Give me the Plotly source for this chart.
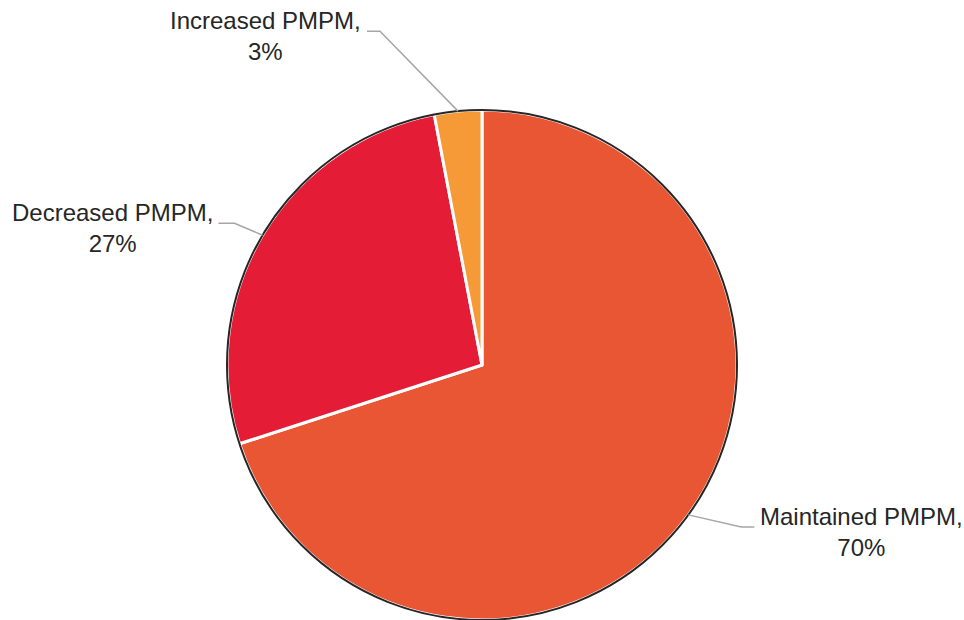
import math
import plotly.graph_objects as go

# ---- data ----
categories = ["Maintained PMPM", "Decreased PMPM", "Increased PMPM"]
values = [70, 27, 3]
colors = ["#E95634", "#E51C35", "#F59A36"]

# ---- layout constants (pixels) ----
W, H = 964, 620
CX, CY, R = 482, 365, 255
# leader-line elbow offsets from slice edge, horizontal tail length
elbow_off = [(53, 12), (-28, -12), (-78, -80)]
tail_len = [13, 16, 13]

def px(x):
    return x / W

def py(y):
    return 1 - y / H

fig = go.Figure()
fig.add_trace(go.Pie(
    labels=categories,
    values=values,
    sort=False,
    direction="clockwise",
    rotation=0,
    marker=dict(colors=colors, line=dict(color="white", width=3)),
    textinfo="none",
    hoverinfo="label+percent",
    showlegend=False,
    domain=dict(x=[0, 1], y=[0, (2 * R) / H]),
))

# outer dark outline
fig.add_shape(type="circle", xref="paper", yref="paper",
              x0=px(CX - R), x1=px(CX + R), y0=py(CY + R), y1=py(CY - R),
              line=dict(color="#262626", width=2), layer="above")

total = sum(values)
cum = 0
for i, (lab, v) in enumerate(zip(categories, values)):
    mid = (cum + v / 2) / total * 2 * math.pi
    cum += v
    ex = CX + R * math.sin(mid)
    ey = CY - R * math.cos(mid)
    bx = ex + elbow_off[i][0]
    by = ey + elbow_off[i][1]
    side = 1 if bx > ex else -1
    tx = bx + side * tail_len[i]
    fig.add_shape(type="path", xref="paper", yref="paper",
                  path=f"M {px(ex)} {py(ey)} L {px(bx)} {py(by)} L {px(tx)} {py(by)}",
                  line=dict(color="#A6A6A6", width=1.5))
    pct = round(v / total * 100)
    fig.add_annotation(
        xref="paper", yref="paper",
        x=px(tx + side * 4), y=py(by + 5),
        xanchor="left" if side > 0 else "right", yanchor="middle",
        text=f"{lab},<br>{pct}%", showarrow=False, align="center",
        font=dict(family="Liberation Sans, Arial, sans-serif", size=24, color="#262626"),
    )

fig.update_layout(
    width=W, height=H,
    margin=dict(l=0, r=0, t=0, b=0),
    paper_bgcolor="white", plot_bgcolor="white",
)

fig.write_html("out.html")
